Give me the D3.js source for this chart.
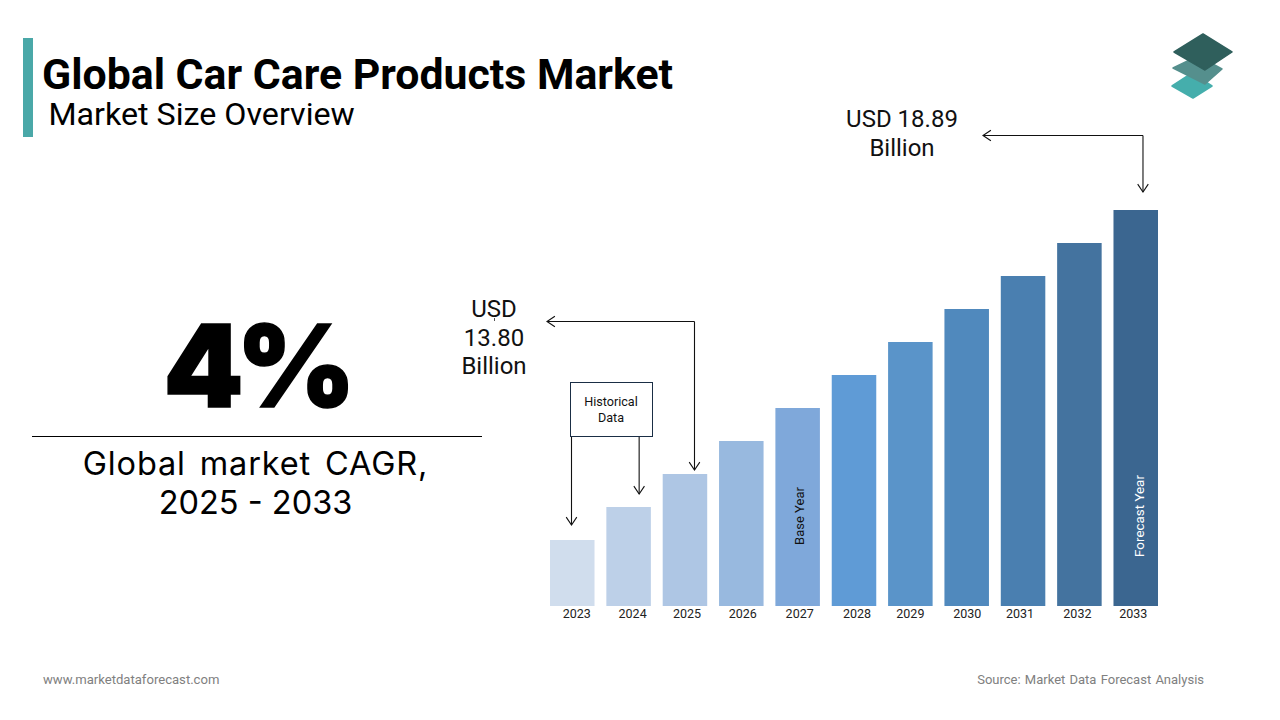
<!DOCTYPE html>
<html>
<head>
<meta charset="utf-8">
<script src="https://cdn.jsdelivr.net/npm/d3@7"></script>
<style>
  html, body { margin: 0; padding: 0; background: #fff; }
  svg { display: block; }
  text { font-family: Roboto, sans-serif; }
</style>
</head>
<body>
<svg id="chart" width="1280" height="720"></svg>
<script>
// Chart data (bars are schematic, heights in relative units)
const years = ['2023', '2024', '2025', '2026', '2027', '2028', '2029', '2030', '2031', '2032', '2033'];
const barHeights = [1, 1.5, 2, 2.5, 3, 3.5, 4, 4.5, 5, 5.5, 6];
const barColors = ['#d0dded', '#bdd0e8', '#aec6e4', '#98b9df', '#7fa8da', '#5f9bd6', '#5a94c9', '#5089bd', '#4a7fb0', '#44739f', '#3b6690'];
const value2025 = ['USD', '13.80', 'Billion'];
const value2033 = ['USD 18.89', 'Billion'];

const svg = d3.select('#chart');

const xScale = d3.scaleBand()
  .domain(years)
  .range([550, 1158])
  .paddingInner(0.21);

const yScale = d3.scaleLinear()
  .domain([0, 6])
  .range([606, 210]);

const barTop = year => yScale(barHeights[years.indexOf(year)]);

// Header
svg.append('rect').attr('x', 23).attr('y', 38).attr('width', 10).attr('height', 99).attr('fill', '#4aa8a8');

svg.append('text')
  .attr('x', 42).attr('y', 88.5)
  .style('font-size', '42.8px').style('font-weight', 700).attr('fill', '#000')
  .text('Global Car Care Products Market');

svg.append('text')
  .attr('x', 48.5).attr('y', 124.5)
  .style('font-size', '32.2px').attr('fill', '#000')
  .text('Market Size Overview');

// Logo
const logo = [
  { fill: '#45aeac', pts: [[1192, 73], [1212, 86], [1193, 98], [1172, 86]] },
  { fill: '#558f8d', pts: [[1198, 56], [1222, 69], [1205, 84], [1173, 68]] },
  { fill: '#2f5f5c', pts: [[1203, 34], [1232, 52], [1205, 70], [1174, 52]] }
];
svg.selectAll('.logo')
  .data(logo)
  .join('polygon')
  .attr('class', 'logo')
  .attr('points', d => d.pts.join(' '))
  .attr('fill', d => d.fill)
  .attr('stroke', d => d.fill)
  .attr('stroke-width', 1.5)
  .attr('stroke-linejoin', 'round');

// Left panel
svg.append('text')
  .attr('x', 256).attr('y', 407)
  .attr('text-anchor', 'middle')
  .style('font-family', 'Inter, sans-serif')
  .style('font-size', '114px').style('font-weight', 900)
  .style('letter-spacing', '-7px')
  .attr('fill', '#000').attr('stroke', '#000').attr('stroke-width', 1.5)
  .text('4%');

svg.append('line')
  .attr('x1', 32).attr('x2', 482).attr('y1', 436.5).attr('y2', 436.5)
  .attr('stroke', '#000').attr('stroke-width', 1);

svg.selectAll('.cagr')
  .data(['Global market CAGR,', '2025 - 2033'])
  .join('text')
  .attr('class', 'cagr')
  .attr('x', 255.5)
  .attr('y', (d, i) => 474.5 + i * 39.5)
  .attr('text-anchor', 'middle')
  .style('font-family', 'Inter, sans-serif')
  .style('font-size', '32.5px')
  .style('letter-spacing', (d, i) => (i ? '0px' : '0.85px'))
  .style('word-spacing', (d, i) => (i ? '0px' : '4px'))
  .attr('fill', '#000')
  .text(d => d);

// Bars
svg.selectAll('.bar')
  .data(years)
  .join('rect')
  .attr('class', 'bar')
  .attr('x', d => xScale(d))
  .attr('width', xScale.bandwidth())
  .attr('y', d => barTop(d))
  .attr('height', d => yScale(0) - barTop(d))
  .attr('fill', (d, i) => barColors[i]);

// Year labels sit a little off the bar centres in the original
const labelNudge = [4.5, 4, 2, 1.5, 2, 3, 0, 0.5, -3, -2, -2.5];
const xAxis = svg.append('g')
  .attr('transform', `translate(0,${yScale(0)})`)
  .call(d3.axisBottom(xScale).tickSize(0).tickPadding(3));
xAxis.select('.domain').remove();
xAxis.selectAll('text')
  .attr('dx', (d, i) => labelNudge[i])
  .style('font-family', 'Roboto, sans-serif')
  .style('font-size', '12.5px')
  .attr('fill', '#222');

// Rotated notes in the bars
const barNote = (year, label, color, size, cx) => {
  svg.append('text')
    .attr('transform', `translate(${xScale(year) + cx},516) rotate(-90)`)
    .attr('text-anchor', 'middle')
    .style('font-size', size)
    .attr('fill', color)
    .text(label);
};
barNote('2027', 'Base Year', '#111', '13px', 29);
barNote('2033', 'Forecast Year', '#fff', '13.4px', 31);

// Arrows
const arrow = (points) => {
  const [tx, ty] = points[points.length - 1];
  const [px, py] = points[points.length - 2];
  const a = Math.atan2(ty - py, tx - px);
  const head = [a + 2.55, a - 2.55].map(t => [tx + 9.5 * Math.cos(t), ty + 9.5 * Math.sin(t)]);
  const line = d3.line();
  svg.append('path').attr('d', line(points))
    .attr('fill', 'none').attr('stroke', '#111').attr('stroke-width', 1.1);
  svg.append('path').attr('d', line([head[0], [tx, ty], head[1]]))
    .attr('fill', 'none').attr('stroke', '#111').attr('stroke-width', 1.1);
};

// Historical data box
svg.append('rect')
  .attr('x', 570.5).attr('y', 382.5).attr('width', 82).attr('height', 54)
  .attr('fill', '#fff').attr('stroke', '#1a2e45').attr('stroke-width', 1);
svg.selectAll('.hist')
  .data(['Historical', 'Data'])
  .join('text')
  .attr('class', 'hist')
  .attr('x', 611)
  .attr('y', (d, i) => 406 + i * 16)
  .attr('text-anchor', 'middle')
  .style('font-size', '12.6px').attr('fill', '#111')
  .text(d => d);

arrow([[xScale('2023') + 21.5, 437], [xScale('2023') + 21.5, barTop('2023') - 15]]);
arrow([[xScale('2024') + 32.8, 437], [xScale('2024') + 32.8, barTop('2024') - 13]]);
arrow([[xScale('2025') + 31.8, 321.5], [547, 321.5]]);
arrow([[xScale('2025') + 31.8, 321.5], [xScale('2025') + 31.8, barTop('2025') - 4]]);
arrow([[xScale('2033') + 29.5, 135.5], [983, 135.5]]);
arrow([[xScale('2033') + 29.5, 135.5], [xScale('2033') + 29.5, barTop('2033') - 18]]);

// Value callouts
svg.selectAll('.v25')
  .data(value2025)
  .join('text')
  .attr('class', 'v25')
  .attr('x', 494)
  .attr('y', (d, i) => 317 + i * 28.5)
  .attr('text-anchor', 'middle')
  .style('font-size', '24px').attr('fill', '#111')
  .text(d => d);

// small stray tick under the USD label in the original
svg.append('line')
  .attr('x1', 494.5).attr('x2', 494.5).attr('y1', 318).attr('y2', 321)
  .attr('stroke', '#555').attr('stroke-width', 1);

svg.selectAll('.v33')
  .data(value2033)
  .join('text')
  .attr('class', 'v33')
  .attr('x', 902)
  .attr('y', (d, i) => 127 + i * 29)
  .attr('text-anchor', 'middle')
  .style('font-size', '24px').attr('fill', '#111')
  .text(d => d);

// Footer
svg.append('text')
  .attr('x', 43).attr('y', 684)
  .style('font-size', '13.1px').attr('fill', '#808080')
  .text('www.marketdataforecast.com');

svg.append('text')
  .attr('x', 1204).attr('y', 684)
  .attr('text-anchor', 'end')
  .style('font-size', '13px').style('word-spacing', '1px').attr('fill', '#808080')
  .text('Source: Market Data Forecast Analysis');
</script>
</body>
</html>
